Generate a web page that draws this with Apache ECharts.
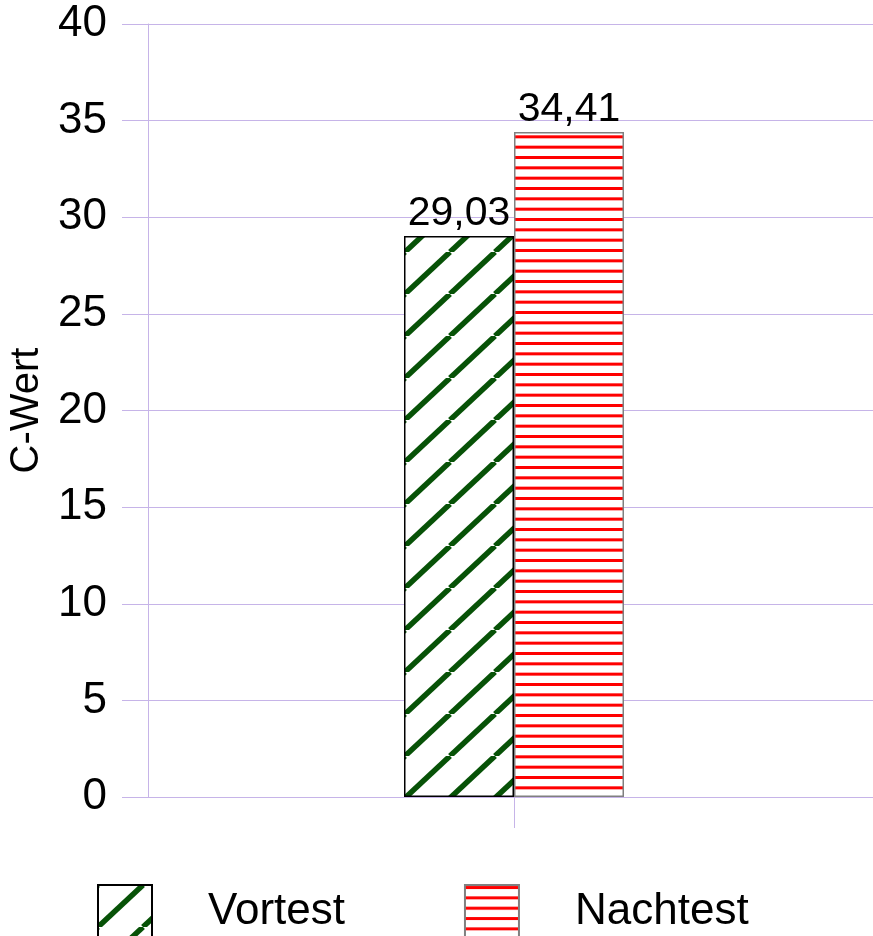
<!DOCTYPE html>
<html>
<head>
<meta charset="utf-8">
<script src="https://cdn.jsdelivr.net/npm/echarts@6.0.0/dist/echarts.min.js"></script>
<style>
html,body{margin:0;padding:0;background:#fff;}
#chart{width:873px;height:936px;}
</style>
</head>
<body>
<div id="chart"></div>
<script>
// Data
const categories = [''];
const seriesNames = ['Vortest', 'Nachtest'];
const vortestValues = [29.03];
const nachtestValues = [34.41];
const yTicks = [0, 5, 10, 15, 20, 25, 30, 35, 40];
const yAxisName = 'C-Wert';

// Patterns
function diagPattern() {
  const w = 45, h = 42;
  const c = document.createElement('canvas');
  c.width = w; c.height = h;
  const ctx = c.getContext('2d');
  ctx.fillStyle = '#ffffff';
  ctx.fillRect(0, 0, w, h);
  ctx.strokeStyle = '#075207';
  ctx.lineWidth = 5.5;
  for (let k = -1; k <= 1; k++) {
    ctx.beginPath();
    ctx.moveTo(k * w, h);
    ctx.lineTo(k * w + w, 0);
    ctx.stroke();
  }
  return c;
}
function horizPattern() {
  const w = 10, h = 31;
  const c = document.createElement('canvas');
  c.width = w; c.height = h;
  const ctx = c.getContext('2d');
  ctx.fillStyle = '#ffffff';
  ctx.fillRect(0, 0, w, h);
  ctx.fillStyle = '#ff0000';
  for (let i = 0; i < 3; i++) {
    ctx.fillRect(0, i * h / 3 + 1, w, 3);
  }
  return c;
}

const gridColor = '#c6b4e8';
const font = 'Liberation Sans, Arial, Helvetica, sans-serif';
const chart = echarts.init(document.getElementById('chart'), null, {renderer: 'canvas'});
const fmt = p => String(p.value).replace('.', ',');

chart.setOption({
  backgroundColor: '#ffffff',
  animation: false,
  textStyle: {fontFamily: font},
  grid: {left: 148, right: -7, top: 24, bottom: 139, outerBoundsMode: 'none', containLabel: false},
  legend: {
    left: 97, top: 884, padding: 0,
    itemWidth: 54, itemHeight: 53, itemGap: 119,
    icon: 'rect',
    textStyle: {fontSize: 44, color: '#000', fontFamily: font, padding: [0, 0, 0, 51]},
    data: seriesNames
  },
  xAxis: {
    type: 'category',
    data: categories,
    axisLine: {show: true, lineStyle: {color: gridColor, width: 1}},
    axisTick: {show: true, alignWithLabel: true, length: 31, lineStyle: {color: gridColor, width: 1}},
    axisLabel: {show: false},
    splitLine: {show: false}
  },
  yAxis: {
    type: 'value',
    min: yTicks[0], max: yTicks[yTicks.length - 1], interval: 5,
    name: yAxisName,
    nameLocation: 'middle',
    nameRotate: 90,
    nameGap: 95,
    nameTextStyle: {fontSize: 40, color: '#000', fontFamily: font},
    axisLine: {show: true, lineStyle: {color: gridColor, width: 1}},
    axisTick: {show: true, length: 26, lineStyle: {color: gridColor, width: 1}},
    axisLabel: {fontSize: 44, color: '#000', margin: 41, fontFamily: font},
    splitLine: {show: true, lineStyle: {color: gridColor, width: 1}}
  },
  series: [
    {
      name: seriesNames[0], type: 'bar', data: vortestValues,
      barWidth: 110, barGap: '0%',
      itemStyle: {color: {image: diagPattern(), repeat: 'repeat'}, borderColor: '#000', borderWidth: 1.5},
      label: {show: true, position: 'top', distance: 2, fontSize: 41, color: '#000', fontFamily: font, formatter: fmt}
    },
    {
      name: seriesNames[1], type: 'bar', data: nachtestValues,
      barWidth: 110, barGap: '0%',
      itemStyle: {color: {image: horizPattern(), repeat: 'repeat'}, borderColor: '#808080', borderWidth: 1.5},
      label: {show: true, position: 'top', distance: 2, fontSize: 41, color: '#000', fontFamily: font, formatter: fmt}
    }
  ]
});
</script>
</body>
</html>
